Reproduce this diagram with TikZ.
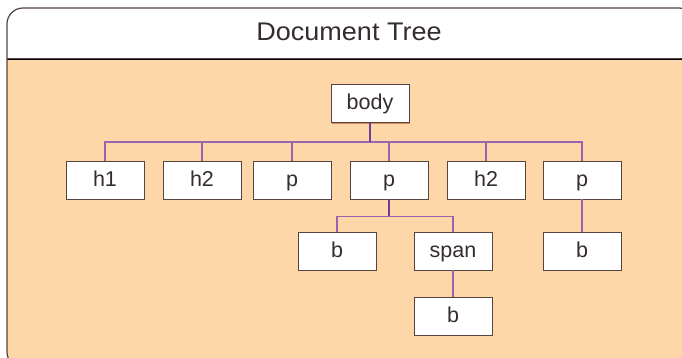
\documentclass[tikz,border=0pt]{standalone}
\usepackage{fontspec}
\setmainfont{Liberation Sans}
\usetikzlibrary{shadows,calc}
\definecolor{peach}{HTML}{FED7A9}
\definecolor{txt}{HTML}{352D2D}
\definecolor{edge}{HTML}{55453F}
\definecolor{shade}{HTML}{D9885A}
\definecolor{linkc}{HTML}{9565AD}
\definecolor{linkd}{HTML}{6B3E98}
\tikzset{
  treebox/.style={draw=edge, line width=0.9pt, fill=white, minimum width=78pt, minimum height=38pt, inner sep=0pt,
    text height=17pt, text depth=4pt,
    font=\fontsize{21.5}{24}\selectfont, text=txt,
    drop shadow={shadow xshift=1.3pt, shadow yshift=-1.3pt, fill=shade, opacity=1}},
  link/.style={draw=linkc, line width=1.3pt},
  mainlink/.style={draw=linkd, line width=2pt},
}
\begin{document}
\begin{tikzpicture}[x=1pt,y=-1pt]
\useasboundingbox (0,0) rectangle (682,358);
\clip (0,0) rectangle (682,358);
% outer frame
\path[fill=peach, rounded corners=16pt] (7,8) rectangle (695,368);
\begin{scope}
  \clip[rounded corners=16pt] (7,8) rectangle (695,368);
  \fill[white] (0,0) rectangle (700,59);
\end{scope}
\draw[shade, line width=1pt] (7,60) -- (700,60);
\draw[edge, line width=1pt] (7,59) -- (700,59);
\draw[edge, line width=1.2pt, rounded corners=16pt] (7,8) rectangle (695,368);
\node[font=\fontsize{25.5}{28}\selectfont, text=txt, anchor=base, inner sep=0pt, xscale=1.06] (title) at (349,41) {Document Tree};
% nodes
\node[treebox] (body) at (370,103.5) {body};
\node[treebox] (h1)  at (105,180) {h1};
\node[treebox] (h2a) at (202,180) {h2};
\node[treebox] (p1)  at (292,180) {p};
\node[treebox] (p2)  at (389,180) {p};
\node[treebox] (h2b) at (486,180) {h2};
\node[treebox] (p3)  at (582,180) {p};
\node[treebox] (b1)  at (337,251) {b};
\node[treebox] (span) at (453,251) {span};
\node[treebox] (b2)  at (582,251) {b};
\node[treebox] (b3)  at (453,316) {b};
% connectors
\coordinate (j1) at ($(body.south)+(0,19)$);
\coordinate (j2) at ($(p2.south)+(0,17)$);
\draw[link] (h1.north) -- (h1.north|-j1) -- (p3.north|-j1) -- (p3.north);
\foreach \n in {h2a,p1,p2,h2b} \draw[link] (\n.north) -- (\n.north|-j1);
\draw[mainlink] (body.south) -- (j1);
\draw[link] (b1.north) -- (b1.north|-j2) -- (span.north|-j2) -- (span.north);
\draw[mainlink] (p2.south) -- (j2);
\draw[link] (p3.south) -- (b2.north);
\draw[link] (span.south) -- (b3.north);
\end{tikzpicture}
\end{document}
